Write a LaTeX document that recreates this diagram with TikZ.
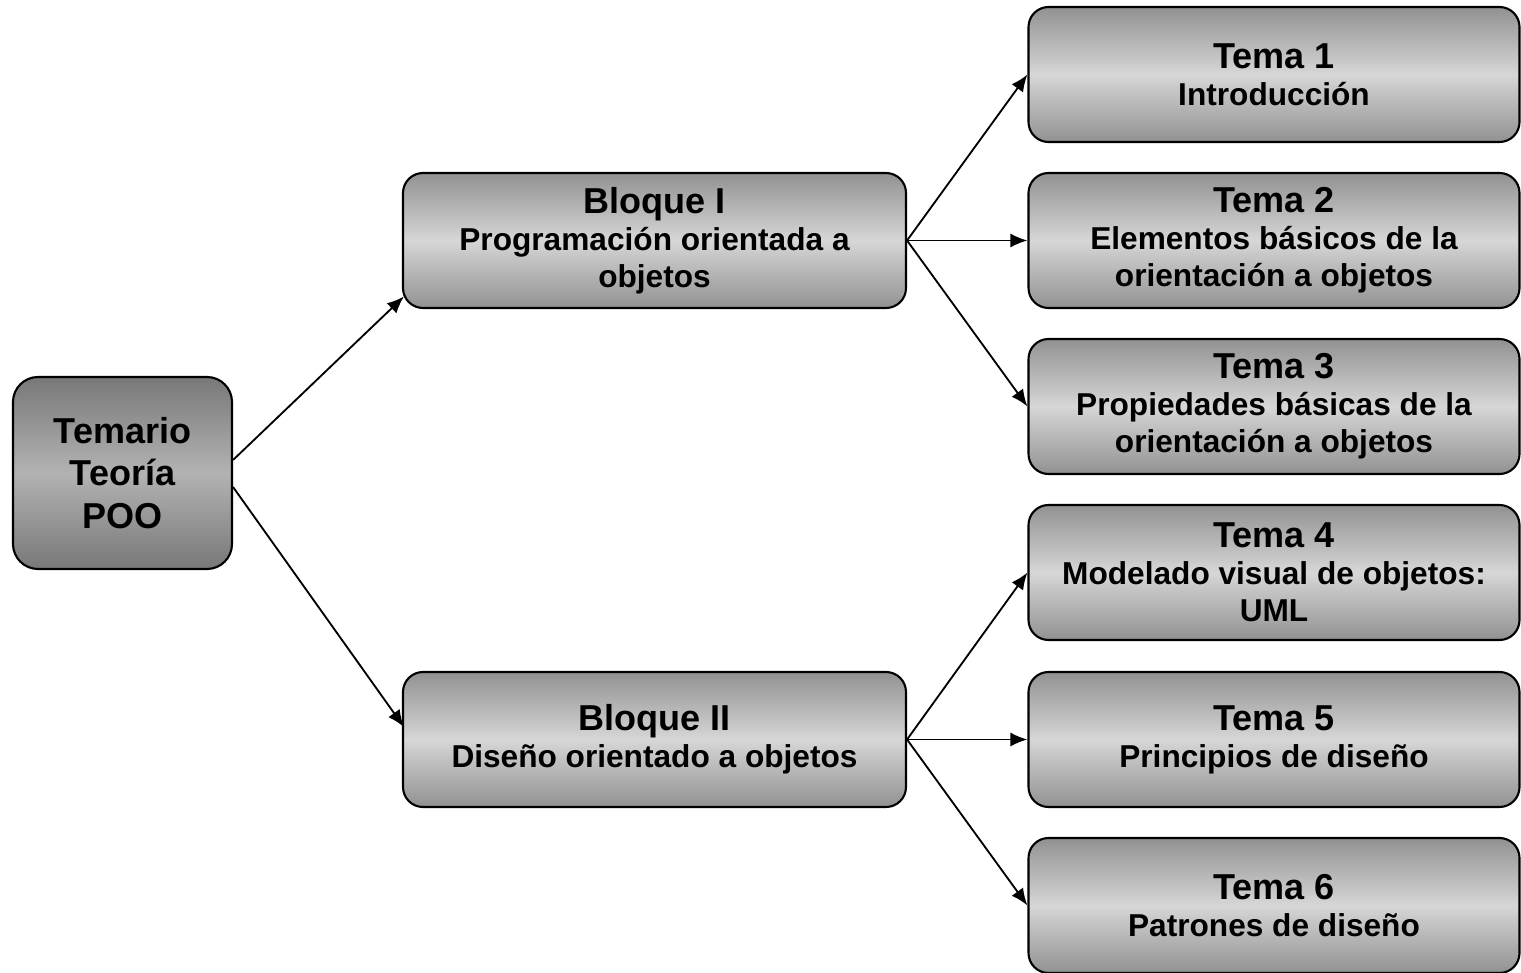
\documentclass[tikz,border=0pt]{standalone}
\usepackage{fontspec}
\setmainfont{Liberation Sans}
\usetikzlibrary{arrows.meta,calc}
\definecolor{grisoscuro}{gray}{0.57}
\definecolor{grisclaro}{gray}{0.84}
\definecolor{raizoscuro}{gray}{0.47}
\definecolor{raizclaro}{gray}{0.70}
\newcommand{\titulo}{\fontsize{20.5}{24}\selectfont}
\newcommand{\subtitulo}{\fontsize{18}{21}\selectfont}
\tikzset{
  caja/.style={draw=black, line width=1.2pt, rounded corners=0.4cm, inner sep=0pt, align=center,
    top color=grisoscuro, bottom color=grisoscuro, middle color=grisclaro,
    font=\bfseries\subtitulo},
  bloque/.style={caja, minimum width=10.06cm, minimum height=2.70cm},
  tema/.style={caja, minimum width=9.82cm, minimum height=2.70cm},
  flecha/.style={line width=1.05pt, -{Latex[length=0.34cm,width=0.28cm]}}
}
\begin{document}
\begin{tikzpicture}
    \useasboundingbox (0,0) rectangle (30.42,-19.46);
    \node[caja, rounded corners=0.5cm, minimum width=4.38cm, minimum height=3.84cm,
      top color=raizoscuro, bottom color=raizoscuro, middle color=raizclaro, font=\bfseries\titulo]
      (raiz) at (2.45,-9.46) {Temario\\Teoría\\POO};
    \node[bloque] (b1) at (13.09,-4.81) {{\titulo Bloque I}\\Programación orientada a\\objetos};
    \node[bloque] (b2) at (13.09,-14.79) {{\titulo Bloque II}\\Diseño orientado a objetos};
    \node[tema] (t1) at (25.48,-1.49) {{\titulo Tema 1}\\Introducción};
    \node[tema] (t2) at (25.48,-4.81) {{\titulo Tema 2}\\Elementos básicos de la\\orientación a objetos};
    \node[tema] (t3) at (25.48,-8.13) {{\titulo Tema 3}\\Propiedades básicas de la\\orientación a objetos};
    \node[tema] (t4) at (25.48,-11.45) {{\titulo Tema 4}\\Modelado visual de objetos:\\UML};
    \node[tema] (t5) at (25.48,-14.79) {{\titulo Tema 5}\\Principios de diseño};
    \node[tema] (t6) at (25.48,-18.11) {{\titulo Tema 6}\\Patrones de diseño};
    % conexiones
    \draw[flecha] ($(raiz.east)+(0,0.26)$) -- ($(b1.west)+(0.04,-1.12)$);
    \draw[flecha] ($(raiz.east)+(0,-0.28)$) -- ($(b2.west)+(0.04,0.25)$);
    \draw[flecha] (b1.east) -- (t1.west);
    \draw[flecha] (b1.east) -- (t2.west);
    \draw[flecha] (b1.east) -- (t3.west);
    \draw[flecha] (b2.east) -- (t4.west);
    \draw[flecha] (b2.east) -- (t5.west);
    \draw[flecha] (b2.east) -- (t6.west);
\end{tikzpicture}
\end{document}
